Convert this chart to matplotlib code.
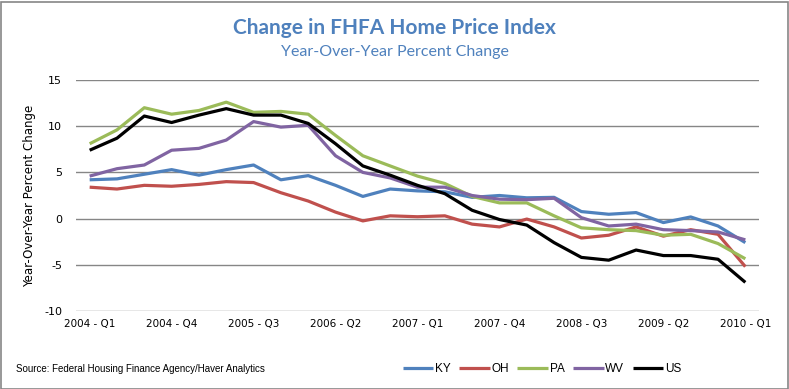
import matplotlib
matplotlib.use("Agg")
import matplotlib.pyplot as plt
from matplotlib.patches import Rectangle

plt.rcParams["axes.unicode_minus"] = False

# quarters 2004-Q1 .. 2010-Q1
quarters = [f"{y} - Q{q}" for y in range(2004, 2011) for q in range(1, 5)][:25]

ky = [4.2, 4.3, 4.8, 5.3, 4.7, 5.3, 5.8, 4.2, 4.65, 3.6, 2.4, 3.2, 3.0,
      2.9, 2.3, 2.5, 2.25, 2.3, 0.76, 0.47, 0.65, -0.43, 0.18, -0.8, -2.6]
oh = [3.4, 3.2, 3.6, 3.5, 3.7, 4.0, 3.9, 2.8, 1.9, 0.7, -0.25, 0.3, 0.2,
      0.3, -0.6, -0.9, -0.05, -0.9, -2.1, -1.8, -0.9, -1.9, -1.2, -1.7, -5.2]
pa = [8.1, 9.6, 12.0, 11.3, 11.7, 12.6, 11.5, 11.6, 11.3, 9.0, 6.8, 5.7, 4.6,
      3.8, 2.4, 1.7, 1.7, 0.3, -1.0, -1.2, -1.3, -1.8, -1.7, -2.7, -4.35]
wv = [4.6, 5.4, 5.8, 7.4, 7.6, 8.5, 10.5, 9.9, 10.1, 6.8, 5.0, 4.4, 3.4,
      3.4, 2.5, 2.1, 2.05, 2.2, 0.1, -0.8, -0.6, -1.2, -1.3, -1.45, -2.3]
us = [7.4, 8.7, 11.1, 10.4, 11.2, 11.9, 11.2, 11.2, 10.3, 8.1, 5.7, 4.7, 3.6,
      2.7, 0.9, -0.1, -0.7, -2.6, -4.2, -4.5, -3.4, -4.0, -4.0, -4.4, -6.9]

series = [("KY", ky, "#4F81BD"), ("OH", oh, "#C0504D"), ("PA", pa, "#9BBB59"),
          ("WV", wv, "#8064A2"), ("US", us, "#000000")]

W, H = 789, 389
fig = plt.figure(figsize=(W / 100, H / 100), dpi=100)
ax = fig.add_axes([76 / W, 78 / H, (759 - 76) / W, (311 - 80) / H])

x = list(range(len(quarters)))
for name, vals, color in series:
    ax.plot(x, vals, color=color, lw=2.3, label=name, solid_capstyle="butt")

ax.set_xlim(-0.5, len(quarters) - 0.5)
ax.set_ylim(-10, 15)
ax.set_yticks(range(-10, 16, 5))
ax.set_xticks(x[::3])
ax.set_xticklabels(quarters[::3])
ax.grid(axis="y", color="#868686", lw=1)
ax.set_axisbelow(True)
for s in ax.spines.values():
    s.set_visible(False)
ax.tick_params(axis="y", length=0, pad=10, labelsize=8)
ax.tick_params(axis="x", length=0, pad=6, labelsize=7.5)
ax.set_ylabel("Year-Over-Year Percent Change", fontsize=8.5, labelpad=6)

fig.text(0.5, 1 - 28 / H, "Change in FHFA Home Price Index", ha="center",
         va="center", fontsize=15, fontweight="bold", color="#4F81BD", family="Lato")
fig.text(0.5, 1 - 52 / H, "Year-Over-Year Percent Change", ha="center",
         va="center", fontsize=11.5, color="#4F81BD", family="Lato")
fig.text(16 / W, 1 - 369 / H, "Source: Federal Housing Finance Agency/Haver Analytics",
         ha="left", va="center", fontsize=7, family="Liberation Sans")

fig.legend(loc="center", bbox_to_anchor=(542 / W, 1 - 369 / H), ncol=5,
           frameon=False, handlelength=2.6, handletextpad=0.15,
           columnspacing=0.7, prop={"family": "Liberation Sans", "size": 8.5})

fig.patches.append(Rectangle((0.5 / W, 0.5 / H), (W - 2) / W, (H - 2) / H,
                             transform=fig.transFigure, fill=False,
                             edgecolor="#868686", lw=1.2))

plt.savefig("out.png", dpi=100)
